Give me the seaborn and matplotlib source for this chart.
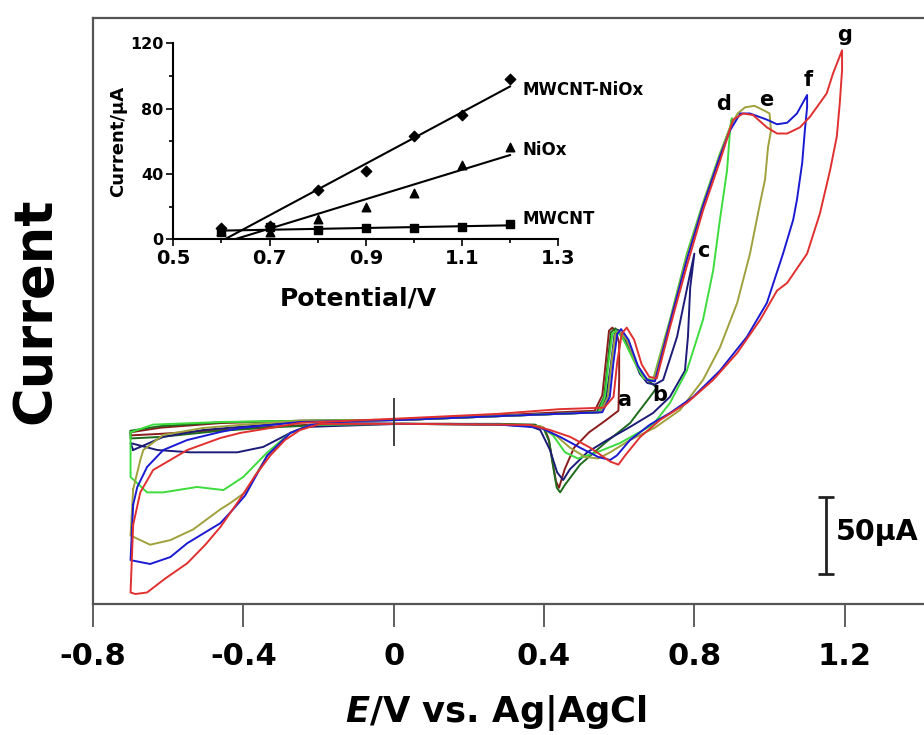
import matplotlib
matplotlib.use("Agg")
import matplotlib.pyplot as plt
import seaborn as sns

# cyclic voltammograms, potential in V, current in uA
# switching potentials a..g = 0.6 .. 1.2 V
a_E = [-0.70, -0.62, -0.46, -0.25, 0.02, 0.28, 0.44, 0.535, 0.555, 0.565, 0.573, 0.582, 0.593, 0.600,
       0.600, 0.598, 0.56, 0.52, 0.48, 0.455, 0.44, 0.432, 0.422, 0.412, 0.40, 0.375, 0.28, 0.15, 0.02,
       -0.17, -0.30, -0.46, -0.62, -0.70, -0.70]
a_I = [-8, -5, -2, -0.5, 0, 3, 5, 6, 16, 39, 58, 60, 56, 50,
       26, 6, -1, -8, -18, -32, -44, -40, -26, -12, -5, -3.5, -3, -2.5, -2.5,
       -2.5, -4, -6.5, -9, -10, -8]

b_E = [-0.70, -0.62, -0.46, -0.25, 0.02, 0.28, 0.44, 0.54, 0.56, 0.57, 0.578, 0.59, 0.60, 0.63, 0.66,
       0.685, 0.70, 0.682, 0.629, 0.562, 0.496, 0.456, 0.443, 0.434, 0.424, 0.414, 0.40, 0.376, 0.28,
       0.02, -0.17, -0.30, -0.46, -0.62, -0.70, -0.70]
b_I = [-7, -4, -1.5, -0.5, 0, 2.5, 4, 5, 15, 38, 57, 59.5, 57, 45, 30,
       24, 21, 15, -2, -15, -29, -42, -47, -44, -30, -14, -6, -3, -2.5,
       -2.5, -3, -4.5, -7, -11, -12, -7]

c_E = [-0.693, -0.613, -0.507, -0.408, -0.249, 0.02, 0.28, 0.44, 0.545, 0.565, 0.578, 0.588, 0.597,
       0.61, 0.63, 0.655, 0.675, 0.695, 0.717, 0.754, 0.781, 0.80, 0.789, 0.783, 0.775, 0.735, 0.69,
       0.629, 0.568, 0.515, 0.469, 0.451, 0.435, 0.416, 0.39, 0.363, 0.28, 0.02, -0.23, -0.275, -0.347,
       -0.416, -0.541, -0.629, -0.70, -0.693]
c_I = [-19.5, -11, -6.5, -4.5, -1.3, 0, 2.5, 4, 5, 14, 36, 56, 58.5,
       55, 45, 30, 24, 23, 26, 54, 86, 108, 86, 54, 32, 15, 4.5,
       -4.5, -13, -21, -32, -39, -34, -19.5, -6.5, -4, -3, -2.5, -4.5, -8.4, -17.5,
       -21, -21, -19.5, -15, -19.5]

d_E = [-0.70, -0.64, -0.46, -0.25, 0.02, 0.28, 0.44, 0.545, 0.562, 0.572, 0.582, 0.592, 0.61, 0.64,
       0.665, 0.69, 0.735, 0.78, 0.823, 0.868, 0.895, 0.90, 0.895, 0.887, 0.868, 0.85, 0.823, 0.78,
       0.735, 0.69, 0.602, 0.541, 0.49, 0.456, 0.424, 0.39, 0.28, 0.02, -0.222, -0.275, -0.336, -0.40,
       -0.453, -0.523, -0.613, -0.656, -0.70, -0.70]
d_I = [-8, -3, -1.3, -0.6, 0, 2.5, 4, 5, 15, 38, 56, 58, 53, 38,
       27, 26, 65, 108, 141, 173, 190, 196, 188, 162, 130, 97, 65, 32,
       11, -3, -15, -21, -25, -21, -10, -4, -3, -2.5, -3.2, -8.4, -21, -37,
       -45.5, -43.5, -47, -47, -37, -8]

e_E = [-0.693, -0.674, -0.666, -0.613, -0.507, -0.408, -0.249, 0.02, 0.28, 0.44, 0.55, 0.57, 0.58,
       0.59, 0.60, 0.62, 0.645, 0.67, 0.69, 0.735, 0.78, 0.823, 0.868, 0.895, 0.915, 0.935, 0.96,
       0.985, 1.0, 1.004, 0.996, 0.988, 0.975, 0.948, 0.914, 0.868, 0.823, 0.762, 0.695, 0.629, 0.576,
       0.544, 0.509, 0.469, 0.43, 0.39, 0.28, 0.02, -0.17, -0.222, -0.275, -0.336, -0.395, -0.435,
       -0.461, -0.533, -0.594, -0.648, -0.70, -0.693]
e_I = [-45, -26, -19.5, -9.7, -5.2, -3.2, -0.6, 0, 2.5, 4, 5, 15, 38,
       56, 58, 52, 37, 27, 25, 64, 106, 140, 172, 190, 199, 203, 204,
       201, 199, 188, 177, 156, 141, 108, 76, 47, 26, 6.5, -5, -13, -21,
       -25, -24, -18, -9.7, -4, -3, -2.5, -2, -3.2, -8.4, -23, -47, -54,
       -58, -71, -78, -81, -75, -45]

f_E = [-0.693, -0.682, -0.656, -0.613, -0.549, -0.461, -0.408, -0.249, 0.02, 0.28, 0.44, 0.555, 0.575,
       0.585, 0.595, 0.605, 0.625, 0.65, 0.675, 0.695, 0.735, 0.78, 0.823, 0.868, 0.895, 0.922, 0.948,
       0.993, 1.02, 1.047, 1.073, 1.10, 1.10, 1.094, 1.087, 1.073, 1.063, 1.036, 0.993, 0.94, 0.868,
       0.797, 0.735, 0.682, 0.629, 0.594, 0.576, 0.544, 0.496, 0.443, 0.39, 0.28, 0.02, -0.17, -0.222,
       -0.275, -0.336, -0.395, -0.427, -0.461, -0.549, -0.594, -0.648, -0.70, -0.693]
f_I = [-55, -43.5, -30.5, -19.5, -13, -7.8, -5.2, -1.3, 0, 2.5, 4, 5, 15,
       38, 56, 59, 52, 35, 26, 25, 63, 104, 139, 171, 188, 199, 199,
       195, 192, 193, 199, 211, 203, 188, 167, 143, 130, 108, 76, 54, 32,
       15, 4.5, -3, -13, -23, -26, -24, -18, -11, -5, -3, -2.5, -2, -3.2,
       -8.4, -23, -49, -58, -67, -80, -89, -93.5, -91, -55]

g_E = [-0.693, -0.674, -0.64, -0.549, -0.461, -0.408, -0.328, -0.249, 0.02, 0.28, 0.44, 0.56, 0.585,
       0.595, 0.607, 0.62, 0.64, 0.66, 0.68, 0.70, 0.735, 0.78, 0.823, 0.868, 0.903, 0.93, 0.956,
       0.993, 1.02, 1.047, 1.081, 1.108, 1.152, 1.169, 1.193, 1.193, 1.187, 1.179, 1.161, 1.134, 1.10,
       1.047, 1.02, 0.975, 0.914, 0.85, 0.78, 0.709, 0.656, 0.616, 0.598, 0.576, 0.523, 0.47, 0.416,
       0.363, 0.28, 0.02, -0.196, -0.249, -0.289, -0.328, -0.368, -0.408, -0.461, -0.501, -0.549,
       -0.608, -0.656, -0.687, -0.70, -0.693]
g_I = [-68, -47, -32.5, -19.5, -11.7, -8.4, -5.2, -1.9, 1, 4, 7, 8, 15,
       38, 56, 60, 52, 36, 28, 27, 60, 100, 136, 168, 195, 199, 198,
       190, 186, 186, 190, 197, 212, 225, 240, 227, 206, 184, 162, 134, 108,
       89, 84, 65, 43.5, 26, 11, 0, -11, -23, -29, -27, -18, -11, -6.5,
       -3.2, -3, -2.5, -2.6, -6.5, -13, -23, -36, -51, -69.5, -81, -93,
       -103, -112, -113, -112, -68]

curve_names = ["a", "b", "c", "d", "e", "f", "g"]
curve_colors = ["#8b1c1c", "#1e6b1e", "#1c1c78", "#3ddc3d", "#a0a03c", "#1a1ad2", "#e03030"]

# inset: peak current vs switching potential
inset_E = [0.6, 0.7, 0.8, 0.9, 1.0, 1.1, 1.2]
mwcnt_niox = [7, 8, 30, 42, 63, 76, 98]
niox = [5, 4.7, 12.4, 19.6, 28.1, 45.5, 56.7]
mwcnt = [4.7, 7.7, 5.7, 6.7, 6.7, 7.7, 9.4]

scale_bar = 50  # uA
start_E = 0.0

sns.set_style("white")
plt.rcParams["font.family"] = ["DejaVu Sans"]
plt.rcParams["font.weight"] = "bold"
plt.rcParams["text.color"] = "black"
plt.rcParams["axes.labelcolor"] = "black"
plt.rcParams["xtick.color"] = "black"
plt.rcParams["ytick.color"] = "black"
plt.rcParams["mathtext.fontset"] = "custom"
plt.rcParams["mathtext.it"] = "DejaVu Sans:italic:bold"
plt.rcParams["mathtext.rm"] = "DejaVu Sans:bold"

fig = plt.figure(figsize=(9.24, 7.35), dpi=100)
ax = fig.add_axes([0.1006, 0.1782, 0.9356, 0.7973])

all_E = [a_E, b_E, c_E, d_E, e_E, f_E, g_E]
all_I = [a_I, b_I, c_I, d_I, e_I, f_I, g_I]
for E, I, col in zip(all_E, all_I, curve_colors):
    sns.lineplot(x=E, y=I, sort=False, estimator=None, color=col, lw=1.4, ax=ax)

ax.set_xlim(-0.8, 1.5)
ax.set_ylim(-119.5, 261)
ax.set_xticks([-0.8, -0.4, 0, 0.4, 0.8, 1.2])
ax.set_xticklabels(["-0.8", "-0.4", "0", "0.4", "0.8", "1.2"])
ax.set_yticks([])
ax.tick_params(axis="x", bottom=True, direction="out", length=16.5, width=1.2,
               color="#444444", pad=11, labelsize=22, labelcolor="black")
for s in ax.spines.values():
    s.set_color("#555555")
    s.set_linewidth(1.6)

ax.set_xlabel("$E$/V vs. Ag|AgCl", fontsize=25.5, fontweight="bold")
ax.xaxis.set_label_coords(0.466, -0.152)
ax.set_ylabel("Current", fontsize=38, fontweight="bold")
ax.yaxis.set_label_coords(-0.036, 0.5)

# curve letters
label_pos = [(0.613, 13), (0.709, 16), (0.823, 110), (0.879, 205), (0.99, 208), (1.102, 221), (1.2, 250)]
for name, (x, y) in zip(curve_names, label_pos):
    ax.text(x, y, name, fontsize=15, fontweight="bold", ha="center", va="center")

# start marker and scale bar
ax.vlines(start_E, -17, 14, color="#333333", lw=1.3)
ax.errorbar([1.15], [-75], yerr=[scale_bar / 2], fmt="none", ecolor="#222222",
            elinewidth=2, capsize=6, capthick=2)
ax.text(1.176, -73, f"{scale_bar}μA", fontsize=20.5, fontweight="bold", ha="left", va="center")

# inset
ins = fig.add_axes([0.1876, 0.6744, 0.4167, 0.2667])
ins.patch.set_alpha(0)
sns.regplot(x=inset_E, y=mwcnt_niox, ci=None, marker="D", color="black",
            scatter_kws={"s": 28, "alpha": 1}, line_kws={"lw": 1.5}, ax=ins)
sns.regplot(x=inset_E, y=niox, ci=None, marker="^", color="black",
            scatter_kws={"s": 38, "alpha": 1}, line_kws={"lw": 1.5}, ax=ins)
sns.regplot(x=inset_E, y=mwcnt, ci=None, marker="s", color="black",
            scatter_kws={"s": 38, "alpha": 1}, line_kws={"lw": 1.5}, ax=ins)

ins.set_xlim(0.5, 1.3)
ins.set_ylim(0, 120)
ins.set_xticks([0.5, 0.7, 0.9, 1.1, 1.3])
ins.set_xticks([0.6, 0.8, 1.0, 1.2], minor=True)
ins.set_yticks([0, 40, 80, 120])
ins.set_yticks([20, 60, 100], minor=True)
ins.tick_params(which="both", bottom=True, left=True, direction="out", width=1.2, color="black")
ins.tick_params(which="major", length=5)
ins.tick_params(which="minor", length=3)
ins.tick_params(axis="x", labelsize=14, pad=2)
ins.tick_params(axis="y", labelsize=11.5, pad=2)
ins.spines["top"].set_visible(False)
ins.spines["right"].set_visible(False)
for side in ["left", "bottom"]:
    ins.spines[side].set_color("black")
    ins.spines[side].set_linewidth(1.5)

ins.set_xlabel("Potential/V", fontsize=18, fontweight="bold")
ins.xaxis.set_label_coords(0.48, -0.243)
ins.set_ylabel("Current/μA", fontsize=13, fontweight="bold")
ins.yaxis.set_label_coords(-0.12, 0.5)

ins.text(1.2246, 91.4, "MWCNT-NiOx", fontsize=12, fontweight="bold", va="center", clip_on=False)
ins.text(1.226, 54.7, "NiOx", fontsize=12, fontweight="bold", va="center", clip_on=False)
ins.text(1.226, 12.4, "MWCNT", fontsize=12, fontweight="bold", va="center", clip_on=False)

fig.savefig("out.png", dpi=100)
